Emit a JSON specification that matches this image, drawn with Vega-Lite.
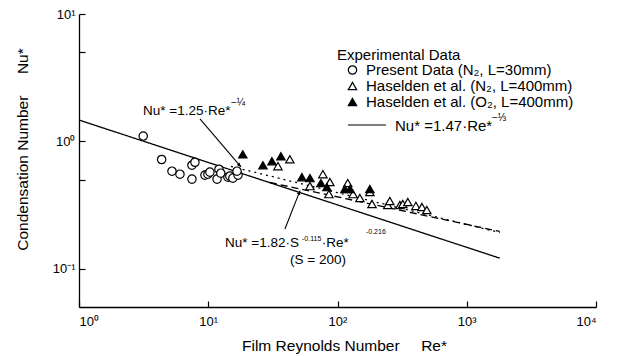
{
  "$schema": "https://vega.github.io/schema/vega-lite/v6.json",
  "width": 517,
  "height": 293,
  "autosize": {"type": "none"},
  "padding": {"left": 79, "top": 14, "right": 24, "bottom": 49},
  "background": "white",
  "config": {
    "view": {"stroke": null},
    "font": "Liberation Sans",
    "axis": {"domainColor": "black", "tickColor": "black", "labelColor": "black", "titleColor": "black", "grid": false, "domainWidth": 1.3, "tickWidth": 1.2},
    "legend": {"orient": "none", "legendX": 258, "legendY": 33.5, "titleFontSize": 15, "titleFontWeight": "normal", "titleColor": "black", "labelFontSize": 15, "labelColor": "black", "titlePadding": 0, "rowPadding": -2.5, "symbolOffset": 8, "symbolSize": 70, "symbolStrokeWidth": 1.2, "labelOffset": 6, "labelLimit": 400}
  },
  "datasets": {
    "points": [
      {"series": "Present Data (N₂, L=30mm)", "Re": 3.14, "Nu": 1.10},
      {"series": "Present Data (N₂, L=30mm)", "Re": 4.36, "Nu": 0.72},
      {"series": "Present Data (N₂, L=30mm)", "Re": 5.24, "Nu": 0.583},
      {"series": "Present Data (N₂, L=30mm)", "Re": 6.04, "Nu": 0.552},
      {"series": "Present Data (N₂, L=30mm)", "Re": 7.48, "Nu": 0.505},
      {"series": "Present Data (N₂, L=30mm)", "Re": 7.48, "Nu": 0.649},
      {"series": "Present Data (N₂, L=30mm)", "Re": 7.89, "Nu": 0.685},
      {"series": "Present Data (N₂, L=30mm)", "Re": 9.43, "Nu": 0.543},
      {"series": "Present Data (N₂, L=30mm)", "Re": 9.94, "Nu": 0.552},
      {"series": "Present Data (N₂, L=30mm)", "Re": 10.3, "Nu": 0.573},
      {"series": "Present Data (N₂, L=30mm)", "Re": 11.7, "Nu": 0.505},
      {"series": "Present Data (N₂, L=30mm)", "Re": 12.1, "Nu": 0.604},
      {"series": "Present Data (N₂, L=30mm)", "Re": 12.5, "Nu": 0.562},
      {"series": "Present Data (N₂, L=30mm)", "Re": 14.2, "Nu": 0.523},
      {"series": "Present Data (N₂, L=30mm)", "Re": 14.7, "Nu": 0.533},
      {"series": "Present Data (N₂, L=30mm)", "Re": 15.5, "Nu": 0.514},
      {"series": "Present Data (N₂, L=30mm)", "Re": 17.0, "Nu": 0.543},
      {"series": "Present Data (N₂, L=30mm)", "Re": 16.7, "Nu": 0.583},
      {"series": "Haselden et al. (N₂, L=400mm)", "Re": 34.6, "Nu": 0.638},
      {"series": "Haselden et al. (N₂, L=400mm)", "Re": 42.8, "Nu": 0.723},
      {"series": "Haselden et al. (N₂, L=400mm)", "Re": 61.2, "Nu": 0.445},
      {"series": "Haselden et al. (N₂, L=400mm)", "Re": 77.1, "Nu": 0.552},
      {"series": "Haselden et al. (N₂, L=400mm)", "Re": 87.3, "Nu": 0.479},
      {"series": "Haselden et al. (N₂, L=400mm)", "Re": 85.8, "Nu": 0.385},
      {"series": "Haselden et al. (N₂, L=400mm)", "Re": 120, "Nu": 0.470},
      {"series": "Haselden et al. (N₂, L=400mm)", "Re": 132, "Nu": 0.385},
      {"series": "Haselden et al. (N₂, L=400mm)", "Re": 149, "Nu": 0.359},
      {"series": "Haselden et al. (N₂, L=400mm)", "Re": 178, "Nu": 0.400},
      {"series": "Haselden et al. (N₂, L=400mm)", "Re": 185, "Nu": 0.322},
      {"series": "Haselden et al. (N₂, L=400mm)", "Re": 245, "Nu": 0.316},
      {"series": "Haselden et al. (N₂, L=400mm)", "Re": 254, "Nu": 0.340},
      {"series": "Haselden et al. (N₂, L=400mm)", "Re": 304, "Nu": 0.316},
      {"series": "Haselden et al. (N₂, L=400mm)", "Re": 320, "Nu": 0.322},
      {"series": "Haselden et al. (N₂, L=400mm)", "Re": 350, "Nu": 0.334},
      {"series": "Haselden et al. (N₂, L=400mm)", "Re": 404, "Nu": 0.311},
      {"series": "Haselden et al. (N₂, L=400mm)", "Re": 450, "Nu": 0.305},
      {"series": "Haselden et al. (N₂, L=400mm)", "Re": 491, "Nu": 0.289},
      {"series": "Haselden et al. (O₂, L=400mm)", "Re": 18.5, "Nu": 0.791},
      {"series": "Haselden et al. (O₂, L=400mm)", "Re": 26.5, "Nu": 0.649},
      {"series": "Haselden et al. (O₂, L=400mm)", "Re": 31.1, "Nu": 0.698},
      {"series": "Haselden et al. (O₂, L=400mm)", "Re": 36.5, "Nu": 0.763},
      {"series": "Haselden et al. (O₂, L=400mm)", "Re": 53.0, "Nu": 0.523},
      {"series": "Haselden et al. (O₂, L=400mm)", "Re": 61.2, "Nu": 0.514},
      {"series": "Haselden et al. (O₂, L=400mm)", "Re": 74.4, "Nu": 0.470},
      {"series": "Haselden et al. (O₂, L=400mm)", "Re": 82.8, "Nu": 0.437},
      {"series": "Haselden et al. (O₂, L=400mm)", "Re": 114, "Nu": 0.422},
      {"series": "Haselden et al. (O₂, L=400mm)", "Re": 125, "Nu": 0.422},
      {"series": "Haselden et al. (O₂, L=400mm)", "Re": 178, "Nu": 0.422}
    ],
    "curves": [
      {"curve": "1.47·Re*^-1/3", "Re": 1, "Nu": 1.47},
      {"curve": "1.47·Re*^-1/3", "Re": 1800, "Nu": 0.1209},
      {"curve": "1.25·Re*^-1/4", "Re": 15, "Nu": 0.635},
      {"curve": "1.25·Re*^-1/4", "Re": 1800, "Nu": 0.192},
      {"curve": "1.82·S^-0.115·Re*^-0.216", "Re": 30, "Nu": 0.475},
      {"curve": "1.82·S^-0.115·Re*^-0.216", "Re": 1800, "Nu": 0.196}
    ],
    "segments": [
      {"seg": "arrow1", "Re": 8.63, "Nu": 1.50, "Re2": 17.9, "Nu2": 0.63},
      {"seg": "arrow2", "Re": 39.2, "Nu": 0.205, "Re2": 51.3, "Nu2": 0.41},
      {"seg": "legendline", "Re": 120.5, "Nu": 1.343, "Re2": 237, "Nu2": 1.343}
    ],
    "notes": [
      {"kind": "main", "Re": 3.13, "Nu": 1.73, "label": "Nu* =1.25·Re*"},
      {"kind": "frac", "Re": 15.0, "Nu": 2.0, "label": "−¼"},
      {"kind": "main", "Re": 13.5, "Nu": 0.159, "label": "Nu* =1.82·S"},
      {"kind": "sup", "Re": 53.1, "Nu": 0.171, "label": "-0.115"},
      {"kind": "main", "Re": 75.5, "Nu": 0.159, "label": "·Re*"},
      {"kind": "sup", "Re": 166, "Nu": 0.194, "label": "-0.216"},
      {"kind": "main", "Re": 42.9, "Nu": 0.117, "label": "(S = 200)"},
      {"kind": "legend", "Re": 278.6, "Nu": 1.319, "label": "Nu* =1.47·Re*"},
      {"kind": "frac", "Re": 1567, "Nu": 1.525, "label": "−⅓"}
    ]
  },
  "encoding": {
    "x": {"field": "Re", "type": "quantitative", "scale": {"type": "log", "domain": [1, 10000], "nice": false},
      "axis": {"values": [1, 10, 100, 1000, 10000], "tickSize": -6, "labelPadding": 14, "labelFontSize": 13,
        "labelExpr": "datum.value == 1 ? '10⁰' : datum.value == 10 ? '10¹' : datum.value == 100 ? '10²' : datum.value == 1000 ? '10³' : '10⁴'",
        "title": "Film Reynolds Number\u00a0\u00a0\u00a0\u00a0\u00a0Re*", "titleFontSize": 15.5, "titleFontWeight": "normal", "titleX": 265, "titleY": 38, "titleBaseline": "middle", "titleAlign": "center"}},
    "y": {"field": "Nu", "type": "quantitative", "scale": {"type": "log", "domain": [0.05, 10], "nice": false},
      "axis": {"values": [0.1, 0.5, 1, 5, 10], "tickSize": -6, "labelPadding": 10, "labelFontSize": 13,
        "labelExpr": "datum.value == 10 ? '10¹' : datum.value == 1 ? '10⁰' : datum.value == 0.1 ? '10⁻¹' : ''",
        "title": "Condensation Number\u00a0\u00a0\u00a0\u00a0\u00a0Nu*", "titleFontSize": 15.5, "titleFontWeight": "normal", "titleX": -57, "titleY": 135, "titleBaseline": "middle", "titleAlign": "center", "titleAngle": 270}}
  },
  "layer": [
    {
      "data": {"name": "curves"},
      "mark": {"type": "line", "color": "black", "strokeWidth": 1.3},
      "encoding": {
        "strokeDash": {"field": "curve", "type": "nominal", "legend": null,
          "scale": {"domain": ["1.47·Re*^-1/3", "1.25·Re*^-1/4", "1.82·S^-0.115·Re*^-0.216"], "range": [[1, 0], [2, 4], [7, 4]]}}
      }
    },
    {
      "data": {"name": "segments"},
      "mark": {"type": "rule", "color": "black", "strokeWidth": 1.1},
      "encoding": {
        "x2": {"field": "Re2"},
        "y2": {"field": "Nu2"}
      }
    },
    {
      "data": {"name": "segments"},
      "transform": [{"filter": "datum.seg == 'arrow1'"}],
      "mark": {"type": "point", "shape": "M0,0L-0.45,1L0.45,1Z", "filled": true, "color": "black", "size": 70, "angle": 138, "opacity": 1},
      "encoding": {"x": {"field": "Re2", "type": "quantitative"}, "y": {"field": "Nu2", "type": "quantitative"}}
    },
    {
      "data": {"name": "segments"},
      "transform": [{"filter": "datum.seg == 'arrow2'"}],
      "mark": {"type": "point", "shape": "M0,0L-0.45,1L0.45,1Z", "filled": true, "color": "black", "size": 70, "angle": 22, "opacity": 1},
      "encoding": {"x": {"field": "Re2", "type": "quantitative"}, "y": {"field": "Nu2", "type": "quantitative"}}
    },
    {
      "data": {"name": "points"},
      "mark": {"type": "point", "filled": true, "strokeWidth": 1.2, "size": 70, "opacity": 1, "fillOpacity": 1, "strokeOpacity": 1},
      "encoding": {
        "shape": {"field": "series", "type": "nominal", "title": "Experimental Data",
          "scale": {"domain": ["Present Data (N₂, L=30mm)", "Haselden et al. (N₂, L=400mm)", "Haselden et al. (O₂, L=400mm)"], "range": ["circle", "triangle-up", "triangle-up"]}},
        "fill": {"field": "series", "type": "nominal", "title": "Experimental Data",
          "scale": {"domain": ["Present Data (N₂, L=30mm)", "Haselden et al. (N₂, L=400mm)", "Haselden et al. (O₂, L=400mm)"], "range": ["white", "white", "black"]}},
        "stroke": {"field": "series", "type": "nominal", "title": "Experimental Data",
          "scale": {"domain": ["Present Data (N₂, L=30mm)", "Haselden et al. (N₂, L=400mm)", "Haselden et al. (O₂, L=400mm)"], "range": ["black", "black", "black"]}}
      }
    },
    {
      "data": {"name": "notes"},
      "transform": [{"filter": "datum.kind == 'main'"}],
      "mark": {"type": "text", "align": "left", "baseline": "middle", "fontSize": 13.5, "color": "black"},
      "encoding": {"text": {"field": "label"}}
    },
    {
      "data": {"name": "notes"},
      "transform": [{"filter": "datum.kind == 'legend'"}],
      "mark": {"type": "text", "align": "left", "baseline": "middle", "fontSize": 15, "color": "black"},
      "encoding": {"text": {"field": "label"}}
    },
    {
      "data": {"name": "notes"},
      "transform": [{"filter": "datum.kind == 'sup'"}],
      "mark": {"type": "text", "align": "left", "baseline": "middle", "fontSize": 7, "color": "black"},
      "encoding": {"text": {"field": "label"}}
    },
    {
      "data": {"name": "notes"},
      "transform": [{"filter": "datum.kind == 'frac'"}],
      "mark": {"type": "text", "align": "left", "baseline": "middle", "fontSize": 10, "color": "black"},
      "encoding": {"text": {"field": "label"}}
    }
  ]
}
